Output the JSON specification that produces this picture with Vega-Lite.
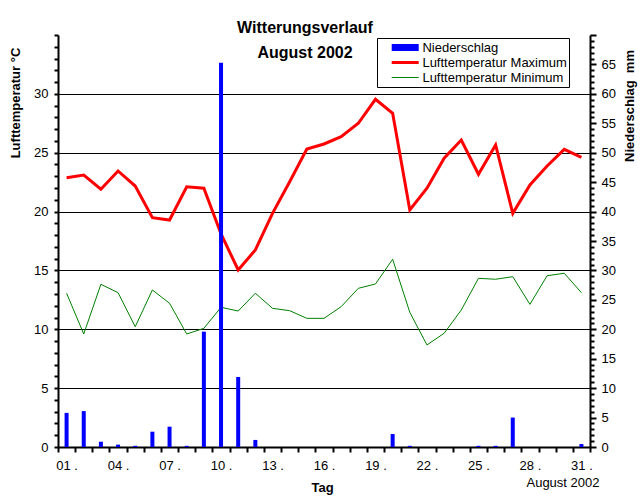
{
  "$schema": "https://vega.github.io/schema/vega-lite/v6.json",
  "width": 532,
  "height": 412,
  "autosize": {"type": "none"},
  "padding": {"left": 58, "top": 35, "right": 54, "bottom": 53},
  "background": "white",
  "config": {
    "view": {"stroke": null},
    "font": "Liberation Sans",
    "axis": {"labelFont": "Liberation Sans", "titleFont": "Liberation Sans", "labelColor": "black", "titleColor": "black"},
    "legend": {"labelFont": "Liberation Sans"}
  },
  "title": {
    "text": "Witterungsverlauf",
    "subtitle": "\u00a0\u00a0\u00a0\u00a0\u00a0August 2002",
    "anchor": "middle",
    "dx": -19,
    "font": "Liberation Sans",
    "fontSize": 16,
    "fontWeight": "bold",
    "color": "black",
    "subtitleFont": "Liberation Sans",
    "subtitleFontSize": 16,
    "subtitleFontWeight": "bold",
    "subtitleColor": "black",
    "subtitlePadding": 9,
    "offset": -27
  },
  "data": {
    "values": [
      {"day": 1, "tmax": 22.88, "tmin": 13.06, "precip": 5.8},
      {"day": 2, "tmax": 23.1, "tmin": 9.6, "precip": 6.1},
      {"day": 3, "tmax": 21.9, "tmin": 13.82, "precip": 0.9},
      {"day": 4, "tmax": 23.45, "tmin": 13.11, "precip": 0.4},
      {"day": 5, "tmax": 22.17, "tmin": 10.22, "precip": 0.2},
      {"day": 6, "tmax": 19.48, "tmin": 13.34, "precip": 2.6},
      {"day": 7, "tmax": 19.28, "tmin": 12.21, "precip": 3.45},
      {"day": 8, "tmax": 22.11, "tmin": 9.6, "precip": 0.2},
      {"day": 9, "tmax": 21.98, "tmin": 10.08, "precip": 19.6},
      {"day": 10, "tmax": 18.1, "tmin": 11.87, "precip": 65.3},
      {"day": 11, "tmax": 15.04, "tmin": 11.55, "precip": 11.9},
      {"day": 12, "tmax": 16.74, "tmin": 13.06, "precip": 1.2},
      {"day": 13, "tmax": 19.85, "tmin": 11.78, "precip": 0},
      {"day": 14, "tmax": 22.54, "tmin": 11.58, "precip": 0},
      {"day": 15, "tmax": 25.32, "tmin": 10.93, "precip": 0},
      {"day": 16, "tmax": 25.74, "tmin": 10.93, "precip": 0},
      {"day": 17, "tmax": 26.36, "tmin": 11.92, "precip": 0},
      {"day": 18, "tmax": 27.5, "tmin": 13.48, "precip": 0},
      {"day": 19, "tmax": 29.54, "tmin": 13.85, "precip": 0},
      {"day": 20, "tmax": 28.35, "tmin": 15.95, "precip": 2.2},
      {"day": 21, "tmax": 20.13, "tmin": 11.44, "precip": 0.2},
      {"day": 22, "tmax": 21.98, "tmin": 8.67, "precip": 0},
      {"day": 23, "tmax": 24.53, "tmin": 9.66, "precip": 0},
      {"day": 24, "tmax": 26.08, "tmin": 11.64, "precip": 0},
      {"day": 25, "tmax": 23.17, "tmin": 14.33, "precip": 0.2},
      {"day": 26, "tmax": 25.66, "tmin": 14.25, "precip": 0.2},
      {"day": 27, "tmax": 19.85, "tmin": 14.47, "precip": 5.0},
      {"day": 28, "tmax": 22.26, "tmin": 12.12, "precip": 0},
      {"day": 29, "tmax": 23.87, "tmin": 14.55, "precip": 0},
      {"day": 30, "tmax": 25.29, "tmin": 14.76, "precip": 0},
      {"day": 31, "tmax": 24.61, "tmin": 13.11, "precip": 0.5}
    ]
  },
  "layer": [
    {
      "layer": [
        {
          "mark": {"type": "line", "strokeWidth": 3},
          "encoding": {
            "x": {
              "field": "day", "type": "ordinal",
              "scale": {"paddingInner": 0, "paddingOuter": 0},
              "axis": {
                "orient": "bottom",
                "title": "Tag", "titleFontSize": 13, "titleFontWeight": "bold",
                "titleX": 264, "titleY": 40, "titleAlign": "center", "titleBaseline": "middle",
                "tickBand": "extent", "tickSize": 5, "tickWidth": 2, "tickColor": "black",
                "domainColor": "black", "domainWidth": 2,
                "labelAngle": 0, "labelFontSize": 13, "labelPadding": 7, "labelBaseline": "top",
                "labelExpr": "(datum.value - 1) % 3 == 0 ? (datum.value < 10 ? '0' : '') + datum.value + ' .' : ''",
                "grid": false
              }
            },
            "y": {
              "field": "tmax", "type": "quantitative",
              "scale": {"domain": [0, 35], "nice": false, "zero": true},
              "axis": {
                "orient": "left",
                "title": "Lufttemperatur °C", "titleFontSize": 13, "titleFontWeight": "bold",
                "titleX": -43, "titleY": 67.5, "titleAngle": 270, "titleAlign": "center", "titleBaseline": "middle",
                "values": [0,1,2,3,4,5,6,7,8,9,10,11,12,13,14,15,16,17,18,19,20,21,22,23,24,25,26,27,28,29,30,31,32,33,34,35],
                "labelExpr": "datum.value % 5 == 0 && datum.value < 35 ? datum.label : ''",
                "grid": true, "gridColor": "black", "gridWidth": 1,
                "gridOpacity": {"condition": {"test": "datum.value % 5 == 0 && datum.value > 0 && datum.value < 35", "value": 1}, "value": 0},
                "tickSize": 4, "tickWidth": 2, "tickColor": "black",
                "domainColor": "black", "domainWidth": 2,
                "labelFontSize": 13, "labelPadding": 6
              }
            },
            "color": {
              "datum": "Lufttemperatur Maximum",
              "scale": {"domain": ["Niederschlag", "Lufttemperatur Maximum", "Lufttemperatur Minimum"], "range": ["#0000ff", "#ff0000", "#008000"]},
              "legend": {
                "title": null, "orient": "none", "legendX": 319, "legendY": 3,
                "padding": 2, "strokeColor": "black", "fillColor": "white",
                "symbolSize": 225, "symbolStrokeWidth": 0, "symbolOffset": 18.7,
                "labelOffset": 9.7, "labelFontSize": 13, "labelColor": "black", "rowPadding": 0,
                "labelExpr": "datum.label + '\u00a0\u00a0\u00a0'",
                "encode": {
                  "symbols": {
                    "update": {
                      "shape": {"signal": "datum.value == 'Niederschlag' ? 'M-1.8,-0.467H1.8V0.467H-1.8Z' : datum.value == 'Lufttemperatur Maximum' ? 'M-1.8,-0.2H1.8V0.2H-1.8Z' : 'M-1.8,-0.067H1.8V0.067H-1.8Z'"},
                      "fill": {"signal": "datum.value == 'Niederschlag' ? '#0000ff' : datum.value == 'Lufttemperatur Maximum' ? '#ff0000' : '#008000'"},
                      "fillOpacity": {"value": 1},
                      "strokeWidth": {"value": 0},
                      "opacity": {"value": 1}
                    }
                  }
                }
              }
            }
          }
        },
        {
          "mark": {"type": "line", "strokeWidth": 1},
          "encoding": {
            "x": {"field": "day", "type": "ordinal", "scale": {"paddingInner": 0, "paddingOuter": 0}},
            "y": {
              "field": "tmin", "type": "quantitative",
              "scale": {"domain": [0, 35], "nice": false, "zero": true},
              "axis": {
                "orient": "left",
                "title": "Lufttemperatur °C", "titleFontSize": 13, "titleFontWeight": "bold",
                "titleX": -43, "titleY": 67.5, "titleAngle": 270, "titleAlign": "center", "titleBaseline": "middle",
                "values": [0,1,2,3,4,5,6,7,8,9,10,11,12,13,14,15,16,17,18,19,20,21,22,23,24,25,26,27,28,29,30,31,32,33,34,35],
                "labelExpr": "datum.value % 5 == 0 && datum.value < 35 ? datum.label : ''",
                "grid": true, "gridColor": "black", "gridWidth": 1,
                "gridOpacity": {"condition": {"test": "datum.value % 5 == 0 && datum.value > 0 && datum.value < 35", "value": 1}, "value": 0},
                "tickSize": 4, "tickWidth": 2, "tickColor": "black",
                "domainColor": "black", "domainWidth": 2,
                "labelFontSize": 13, "labelPadding": 6
              }
            },
            "color": {
              "datum": "Lufttemperatur Minimum",
              "scale": {"domain": ["Niederschlag", "Lufttemperatur Maximum", "Lufttemperatur Minimum"], "range": ["#0000ff", "#ff0000", "#008000"]}
            }
          }
        }
      ]
    },
    {
      "mark": {"type": "bar", "size": 4},
      "encoding": {
        "x": {
          "field": "day", "type": "ordinal",
          "scale": {"paddingInner": 0, "paddingOuter": 0},
          "axis": {
            "orient": "bottom",
            "title": "August 2002", "titleFontSize": 13, "titleFontWeight": "normal",
            "titleX": 541, "titleY": 35, "titleAlign": "right", "titleBaseline": "middle",
            "labels": false, "ticks": false, "domain": false, "grid": false
          }
        },
        "y": {
          "field": "precip", "type": "quantitative",
          "scale": {"domain": [0, 70], "nice": false},
          "axis": {
            "orient": "right",
            "title": "Niederschlag\u00a0\u00a0mm", "titleFontSize": 13, "titleFontWeight": "bold",
            "titleX": 39, "titleY": 70.5, "titleAngle": 270, "titleAlign": "center", "titleBaseline": "middle",
            "values": [0,1,2,3,4,5,6,7,8,9,10,11,12,13,14,15,16,17,18,19,20,21,22,23,24,25,26,27,28,29,30,31,32,33,34,35,36,37,38,39,40,41,42,43,44,45,46,47,48,49,50,51,52,53,54,55,56,57,58,59,60,61,62,63,64,65,66,67,68,69,70],
            "labelExpr": "datum.value % 5 == 0 && datum.value < 70 ? datum.label : ''",
            "grid": false,
            "tickSize": {"condition": {"test": "datum.value % 5 == 0", "value": 6}, "value": 4},
            "tickWidth": 2, "tickColor": "black",
            "domainColor": "black", "domainWidth": 2,
            "labelFontSize": 13, "labelPadding": 5
          }
        },
        "color": {
          "datum": "Niederschlag",
          "scale": {"domain": ["Niederschlag", "Lufttemperatur Maximum", "Lufttemperatur Minimum"], "range": ["#0000ff", "#ff0000", "#008000"]}
        }
      }
    }
  ],
  "resolve": {"scale": {"y": "independent"}, "axis": {"x": "independent"}}
}
